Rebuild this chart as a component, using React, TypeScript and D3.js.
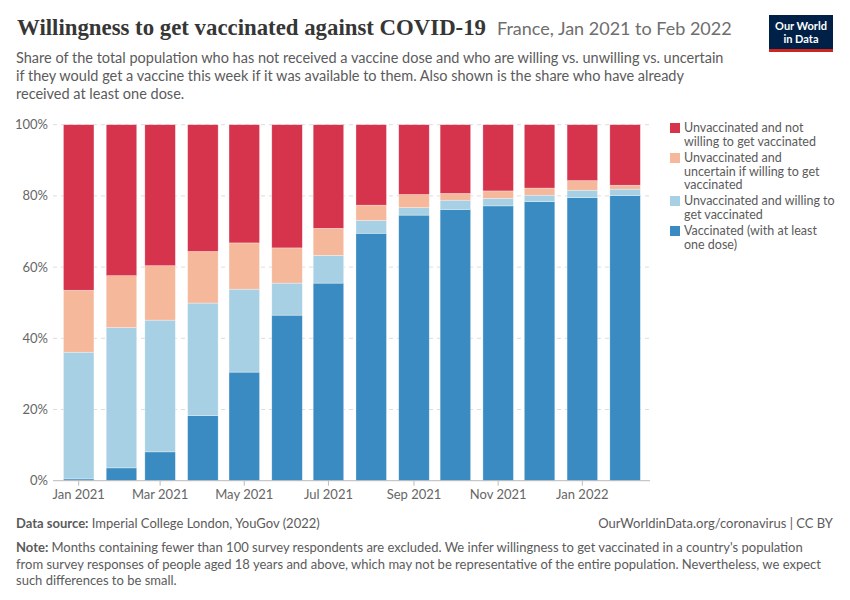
import { useEffect, useRef } from "react";
import * as d3 from "d3";

const WIDTH = 850;
const HEIGHT = 600;
const PLOT = { left: 53, right: 650, top: 124.7, bottom: 480.7 };
const BAR_WIDTH = 30.5;

const months = [
  "2021-01", "2021-02", "2021-03", "2021-04", "2021-05", "2021-06", "2021-07",
  "2021-08", "2021-09", "2021-10", "2021-11", "2021-12", "2022-01", "2022-02",
];
const vaccinated = [0.5, 3.6, 8.1, 18.3, 30.5, 46.5, 55.5, 69.5, 74.6, 76.2, 77.2, 78.4, 79.5, 80.1];
const willing = [35.6, 39.4, 37.0, 31.6, 23.3, 9.0, 7.8, 3.6, 2.1, 2.6, 2.1, 1.8, 2.1, 1.8];
const uncertain = [17.4, 14.6, 15.3, 14.5, 13.0, 9.9, 7.6, 4.3, 3.7, 1.9, 2.1, 2.0, 2.7, 1.1];
const unwilling = [46.5, 42.4, 39.6, 35.6, 33.2, 34.6, 29.1, 22.6, 19.6, 19.3, 18.6, 17.8, 15.7, 17.0];

const yTicks = [0, 20, 40, 60, 80, 100];
const xTickMonths = ["2021-01", "2021-03", "2021-05", "2021-07", "2021-09", "2021-11", "2022-01"];

const seriesKeys = ["vaccinated", "willing", "uncertain", "unwilling"];
const seriesColors = ["#3a8bc1", "#a8d0e5", "#f6b89b", "#d6334d"];
const legendItems = [
  { key: "unwilling", lines: ["Unvaccinated and not", "willing to get vaccinated"] },
  { key: "uncertain", lines: ["Unvaccinated and", "uncertain if willing to get", "vaccinated"] },
  { key: "willing", lines: ["Unvaccinated and willing to", "get vaccinated"] },
  { key: "vaccinated", lines: ["Vaccinated (with at least", "one dose)"] },
];

const subtitleLines = [
  "Share of the total population who has not received a vaccine dose and who are willing vs. unwilling vs. uncertain",
  "if they would get a vaccine this week if it was available to them. Also shown is the share who have already",
  "received at least one dose.",
];
const noteLines = [
  "Months containing fewer than 100 survey respondents are excluded. We infer willingness to get vaccinated in a country's population",
  "from survey responses of people aged 18 years and above, which may not be representative of the entire population. Nevertheless, we expect",
  "such differences to be small.",
];

const parseMonth = d3.timeParse("%Y-%m");
const FONT = "Lato, 'Noto Sans', sans-serif";

export default function App() {
  const chartRef = useRef<SVGGElement>(null);

  useEffect(() => {
    const g = d3.select(chartRef.current);
    g.selectAll("*").remove();

    const dates = months.map((m) => parseMonth(m) as Date);
    const rows = months.map((m, i) => ({
      date: dates[i],
      vaccinated: vaccinated[i],
      willing: willing[i],
      uncertain: uncertain[i],
      unwilling: unwilling[i],
    }));

    const x = d3
      .scaleTime()
      .domain([dates[0], dates[dates.length - 1]])
      .range([78.7, 625.1]);
    const y = d3.scaleLinear().domain([0, 100]).range([PLOT.bottom, PLOT.top]);
    const color = d3.scaleOrdinal<string, string>().domain(seriesKeys).range(seriesColors);

    // gridlines
    const grid = g.append("g");
    yTicks.filter((t) => t > 0).forEach((t) => {
      grid
        .append("line")
        .attr("x1", PLOT.left)
        .attr("x2", PLOT.right)
        .attr("y1", y(t))
        .attr("y2", y(t))
        .attr("stroke", "#dddddd")
        .attr("stroke-dasharray", "4,4");
    });

    // stacked bars
    const stack = d3.stack<any>().keys(seriesKeys)(rows);
    g.append("g")
      .selectAll("g")
      .data(stack)
      .join("g")
      .attr("fill", (d) => color(d.key))
      .selectAll("rect")
      .data((d) => d)
      .join("rect")
      .attr("x", (d) => x(d.data.date) - BAR_WIDTH / 2)
      .attr("width", BAR_WIDTH)
      .attr("y", (d) => y(d[1]))
      .attr("height", (d) => y(d[0]) - y(d[1]))
      .attr("stroke", "rgba(255,255,255,0.5)")
      .attr("stroke-width", 0.6);

    // y axis labels
    g.append("g")
      .selectAll("text")
      .data(yTicks)
      .join("text")
      .attr("x", 48)
      .attr("y", (d) => y(d))
      .attr("dy", "0.35em")
      .attr("text-anchor", "end")
      .attr("font-family", FONT)
      .attr("font-size", 13)
      .attr("fill", "#666")
      .text((d) => `${d}%`);

    // x axis
    const xAxis = g.append("g").attr("transform", `translate(0,${PLOT.bottom})`);
    xAxis
      .append("line")
      .attr("x1", PLOT.left)
      .attr("x2", PLOT.right)
      .attr("stroke", "#bbb")
      .attr("stroke-width", 1);
    const xTicks = xTickMonths.map((m) => parseMonth(m) as Date);
    const fmt = d3.timeFormat("%b %Y");
    xAxis
      .selectAll("line.tick")
      .data(xTicks)
      .join("line")
      .attr("class", "tick")
      .attr("x1", (d) => x(d))
      .attr("x2", (d) => x(d))
      .attr("y1", 0)
      .attr("y2", 5)
      .attr("stroke", "#bbb");
    xAxis
      .selectAll("text")
      .data(xTicks)
      .join("text")
      .attr("x", (d) => x(d))
      .attr("y", 18)
      .attr("text-anchor", "middle")
      .attr("font-family", FONT)
      .attr("font-size", 13)
      .attr("fill", "#666")
      .text((d) => fmt(d));

    // legend
    const legend = g.append("g").attr("transform", "translate(670,0)");
    const legendTops = [128, 158, 201, 231];
    legendItems.forEach((item, i) => {
      const top = legendTops[i];
      legend
        .append("rect")
        .attr("x", 0)
        .attr("y", top - 5)
        .attr("width", 10)
        .attr("height", 10)
        .attr("fill", color(item.key));
      item.lines.forEach((line, j) => {
        legend
          .append("text")
          .attr("x", 14)
          .attr("y", top + j * 13.5)
          .attr("dy", "0.35em")
          .attr("font-family", FONT)
          .attr("font-size", 12.5)
          .attr("fill", "#5b5b5b")
          .text(line);
      });
    });
  }, []);

  return (
    <svg
      width={WIDTH}
      height={HEIGHT}
      style={{ position: "absolute", left: 0, top: 0, background: "#fff" }}
    >
      <rect width={WIDTH} height={HEIGHT} fill="#fff" />
      <text
        x={17}
        y={35}
        fontFamily="'Liberation Serif', 'DejaVu Serif', serif"
        fontSize={24}
        fontWeight="bold"
        fill="#363636"
        textLength={469}
        lengthAdjust="spacingAndGlyphs"
      >
        Willingness to get vaccinated against COVID-19
      </text>
      <text x={497} y={35} fontFamily={FONT} fontSize={18} fill="#6e6e6e">
        France, Jan 2021 to Feb 2022
      </text>
      {subtitleLines.map((line, i) => (
        <text key={i} x={16} y={63 + i * 18} fontFamily={FONT} fontSize={14.5} fill="#5b5b5b">
          {line}
        </text>
      ))}
      <g>
        <rect x={769} y={15} width={64} height={37} fill="#002147" />
        <rect x={769} y={49} width={64} height={3} fill="#ce261e" />
        <text x={801} y={29.5} textAnchor="middle" fontFamily={FONT} fontSize={11} fontWeight="bold" fill="#fff">
          Our World
        </text>
        <text x={801} y={43} textAnchor="middle" fontFamily={FONT} fontSize={11} fontWeight="bold" fill="#fff">
          in Data
        </text>
      </g>
      <g ref={chartRef} />
      <text x={16} y={528} fontFamily={FONT} fontSize={13} fill="#5b5b5b">
        <tspan fontWeight="bold">Data source:</tspan> Imperial College London, YouGov (2022)
      </text>
      <text x={833} y={528} textAnchor="end" fontFamily={FONT} fontSize={13} fill="#5b5b5b">
        OurWorldinData.org/coronavirus | CC BY
      </text>
      {noteLines.map((line, i) => (
        <text key={i} x={16} y={552 + i * 16.5} fontFamily={FONT} fontSize={13} fill="#5b5b5b">
          {i === 0 && <tspan fontWeight="bold">Note: </tspan>}
          {line}
        </text>
      ))}
    </svg>
  );
}
